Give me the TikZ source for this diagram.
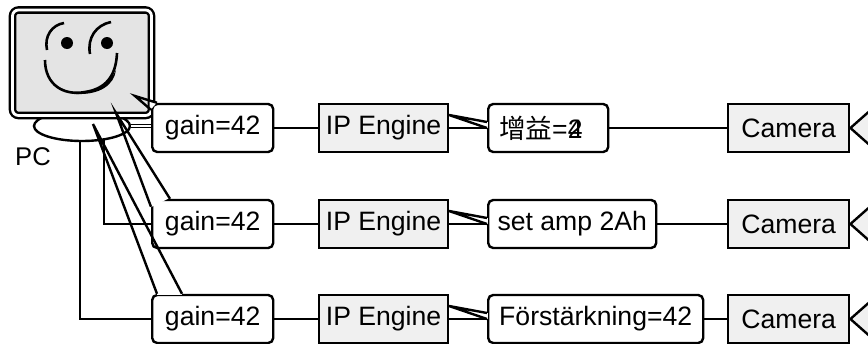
\documentclass[tikz,border=0pt]{standalone}
\usepackage{fontspec}
\setmainfont{Liberation Sans}
\newfontfamily\cjk{Noto Sans CJK SC}
\usetikzlibrary{shapes.geometric, calc}
\definecolor{screengray}{HTML}{E4E4E4}
\definecolor{boxgray}{HTML}{F0F0F0}

\begin{document}
\begin{tikzpicture}[
    x=0.5pt, y=-0.5pt,
    msg/.style={rectangle, draw=black, line width=1.2pt, fill=white, rounded corners=2.5pt, minimum height=24pt, anchor=west, font=\fontsize{13.3}{15}\selectfont},
    unit/.style={rectangle, draw=black, line width=1.2pt, fill=boxgray, minimum height=24pt, anchor=west, font=\fontsize{13.3}{15}\selectfont},
    wire/.style={draw=black, line width=1.2pt},
    labelnode/.style={font=\fontsize{12.8}{15}\selectfont}
]
    \useasboundingbox (0,0) rectangle (868,343);
    \clip (0,0) rectangle (868,343);

    % --- PC: stand, screen and face ---
    \node[ellipse, draw, line width=1.2pt, fill=white, minimum width=48pt, minimum height=15pt, inner sep=0pt] (stand) at (82,126) {};
    \node[draw, line width=1.2pt, double, double distance=1.4pt, fill=screengray, rounded corners=3pt, minimum width=69.5pt, minimum height=52.75pt, inner sep=0pt] (screen) at (82,62.75) {};
    \fill (67,43) circle (3pt);
    \fill (107,43) circle (3pt);
    \draw[line width=1.3pt] (47,50) .. controls (44,36) and (52,25) .. (64,23);
    \draw[line width=1.3pt] (90,54) .. controls (87,38) and (96,25) .. (111,22);
    \draw[line width=1.3pt] (45,60) .. controls (45,85) and (64,96) .. (85,92) .. controls (105,89) and (116,77) .. (117,53);
    \fill (76,94) .. controls (100,95) and (114,85) .. (116,70) .. controls (109,84) and (98,90) .. cycle;
    \node[labelnode] (pclabel) at (33,157) {PC};

    % --- Boxes, one row per camera ---
    \node[msg, minimum width=60.5pt] (g1) at (151,128) {gain=42};
    \node[msg, minimum width=60.5pt] (g2) at (151,224) {gain=42};
    \node[msg, minimum width=60.5pt] (g3) at (151,319) {gain=42};

    \node[unit, minimum width=61pt] (ip1) at (318,128) {IP Engine};
    \node[unit, minimum width=61pt] (ip2) at (318,224) {IP Engine};
    \node[unit, minimum width=61pt] (ip3) at (318,319) {IP Engine};

    \node[msg, minimum width=60pt] (m1) at (487,128) {{\cjk 增益}=\rlap{4}2\phantom{4}};
    \node[msg, minimum width=84pt] (m2) at (487,224) {set amp 2Ah};
    \node[msg, minimum width=107.5pt] (m3) at (487,319) {Förstärkning=42};

    \node[unit, minimum width=60.5pt] (cam1) at (727,128) {Camera};
    \node[unit, minimum width=60.5pt] (cam2) at (727,224) {Camera};
    \node[unit, minimum width=60.5pt] (cam3) at (727,319) {Camera};

    % --- PC to the gain boxes ---
    \draw[line width=0.8pt, double, double distance=0.8pt] (stand.east) -- (stand.east -| g1.west);
    \draw[wire] (stand.-33) |- (g2.west);
    \draw[wire] (stand.-98) |- (g3.west);

    % --- Pointers from the gain boxes up to the PC ---
    \coordinate (tip1) at (135,96);
    \coordinate (tip2) at (116,113);
    \coordinate (tip3) at (93,124);
    \fill[white] ($(g1.north west)+(7,-1.4)$) -- ($(g1.north west)+(-1.4,-1.4)$) -- ($(g1.north west)+(-1.4,8)$) -- cycle;
    \draw[wire] ($(g1.north west)+(6,0)$) -- (tip1) -- ($(g1.north west)+(0,7)$);
    \fill[white] ($(g2.north west)+(20,-1.4)$) -- ($(g2.north west)+(-1.4,-1.4)$) -- ($(g2.north west)+(-1.4,9)$) -- cycle;
    \draw[wire] ($(g2.north west)+(19,0)$) -- (tip2) -- ($(g2.north west)+(0,8)$);
    \fill[white] ($(g3.north west)+(6,-1.4)$) rectangle ($(g3.north west)+(31,1.4)$);
    \draw[wire] ($(g3.north west)+(6,0)$) -- (tip3) -- ($(g3.north west)+(31,0)$);

    % --- Links along each row, lens on each camera ---
    \foreach \r in {1,2,3} {
        \fill[white] ($(m\r.west)+(-1.4,-6)$) rectangle ($(m\r.west)+(1.4,0)$);
        \draw[wire, line join=round] ($(m\r.west)+(0,-6)$) -- ($(ip\r.east)+(0,-13)$) -- (m\r.west);
        \draw[wire] (g\r.east) -- (ip\r.west);
        \draw[wire] (ip\r.east) -- (m\r.west);
        \draw[wire] (m\r.east) -- (cam\r.west);
        \filldraw[wire, fill=boxgray] (cam\r.east) -- ++(26,-23) -- ++(0,46) -- cycle;
    }

\end{tikzpicture}
\end{document}
